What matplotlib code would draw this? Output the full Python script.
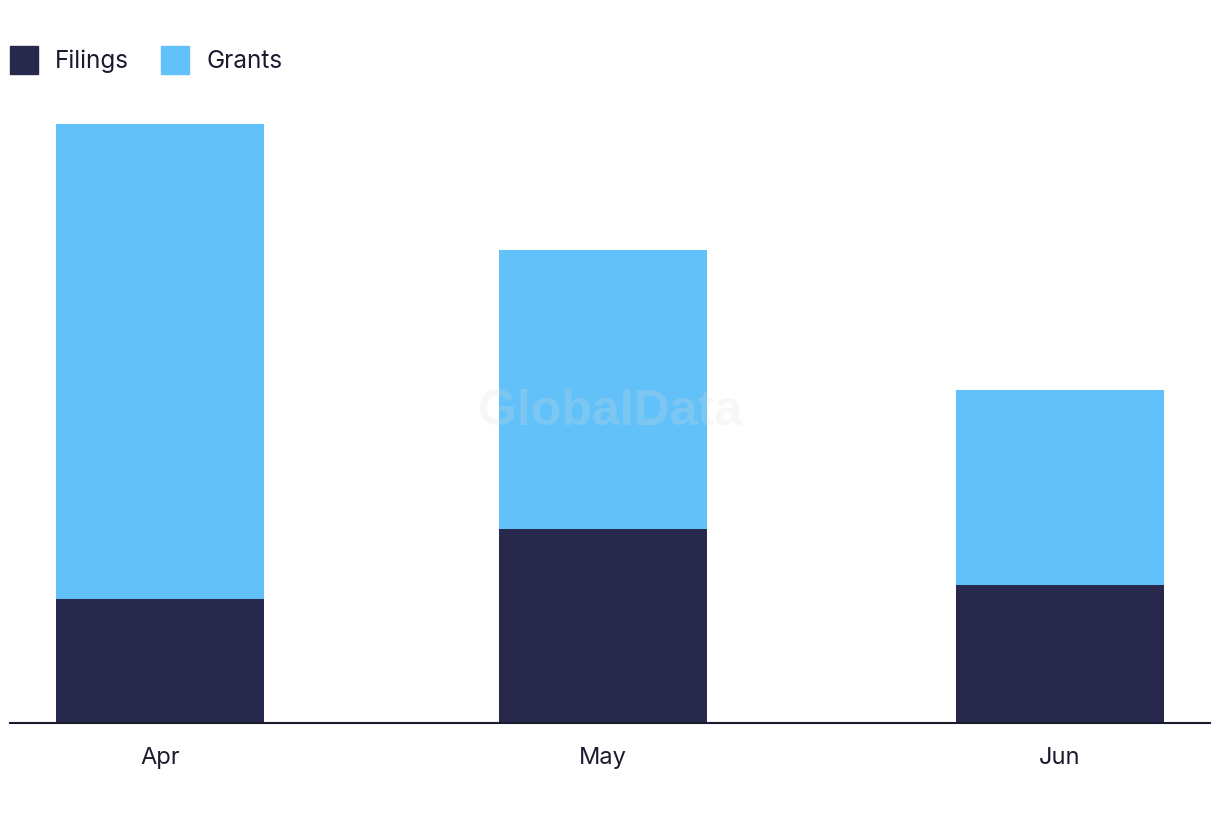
import matplotlib
matplotlib.use("Agg")
import matplotlib.pyplot as plt
import matplotlib.dates as mdates
from matplotlib.patches import Patch
import numpy as np

# Data
months = ["Apr", "May", "Jun"]
month_dates = ["2024-04-01", "2024-05-01", "2024-06-01"]
filings = [18, 28.2, 20]
grants = [69, 40.5, 28.4]

plt.rcParams['font.family'] = ['Inter', 'DejaVu Sans']

fig = plt.figure(figsize=(12.2, 8.22), dpi=100)
ax = fig.add_axes([10/1220, 1 - 723/822, 1200/1220, 623/822])

x = mdates.datestr2num(month_dates)
c_fil = "#27284b"
c_gra = "#62c1f9"
width = 14.1
ax.bar(x, filings, width=width, color=c_fil, zorder=2)
ax.bar(x, grants, width=width, bottom=filings, color=c_gra, zorder=2)

ax.set_xlim(x[0] - 10.17, x[-1] + 10.17)
ax.set_ylim(0, 623/(599/87))
ax.set_xticks(x)
ax.set_xticklabels(months, fontsize=17, color="#1b1b2f")
ax.tick_params(axis='x', length=0, pad=17)
ax.set_yticks([])
for s in ["top", "right", "left"]:
    ax.spines[s].set_visible(False)
ax.spines["bottom"].set_color("#1b1b2f")
ax.spines["bottom"].set_linewidth(1.5)

ax.text(610/1220, 1 - 412/822, "GlobalData", transform=fig.transFigure, ha="center", va="center",
        fontsize=36, fontweight="bold", color="#dddddd", alpha=0.22, zorder=3,
        family=["Liberation Sans", "DejaVu Sans"])

handles = [Patch(color=c_fil, label="Filings"), Patch(color=c_gra, label="Grants")]
leg = fig.legend(handles=handles, loc="upper left", bbox_to_anchor=(10/1220, 1 - 46/822),
                 ncol=2, frameon=False, fontsize=17.5, handlelength=1.16, handleheight=1.4,
                 handletextpad=0.7, columnspacing=1.3, borderpad=0, borderaxespad=0,
                 labelcolor="#1b1b2f")

fig.savefig("out.png", dpi=100)
